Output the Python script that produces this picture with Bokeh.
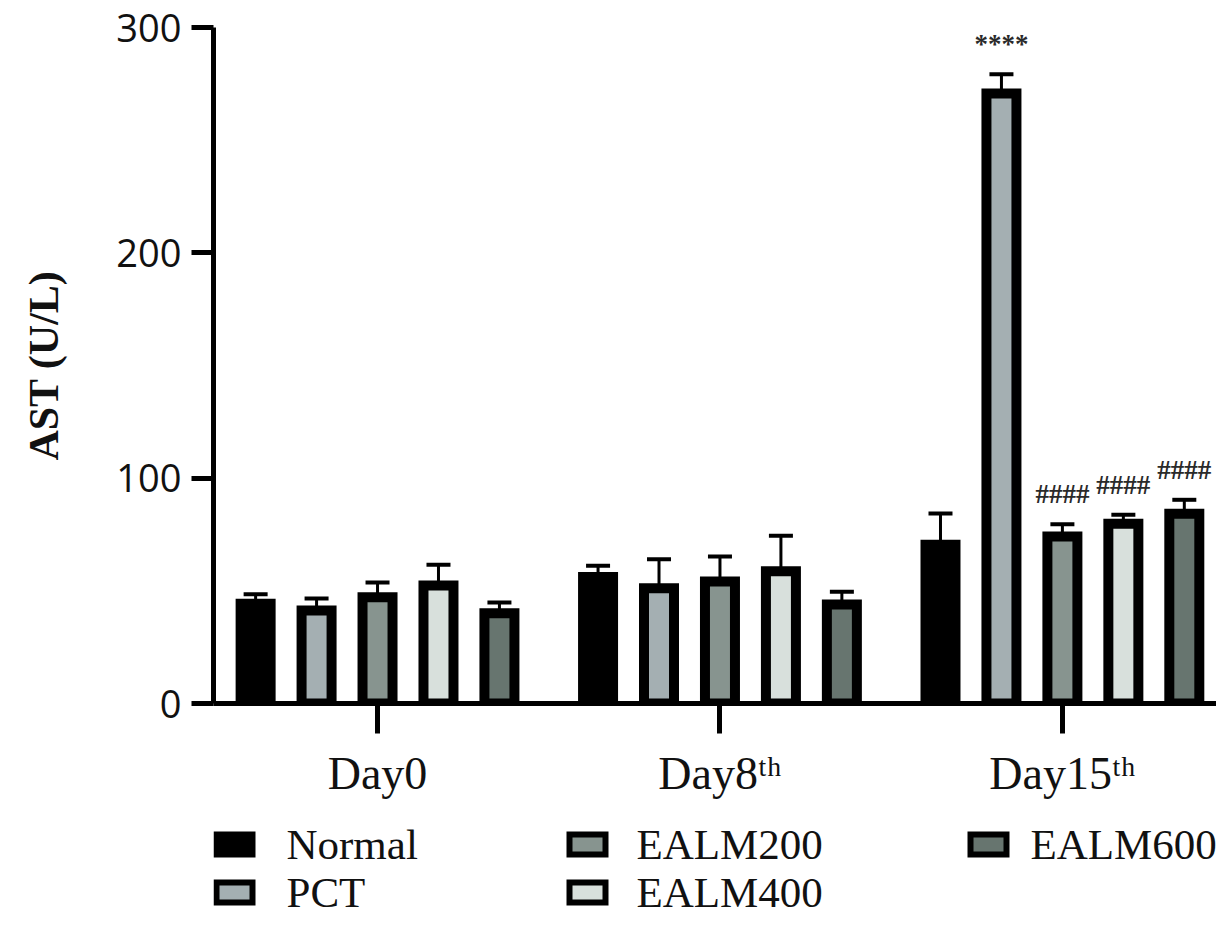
from bokeh.plotting import figure
from bokeh.models import Range1d, FixedTicker, ColumnDataSource
from bokeh.layouts import column
from bokeh.embed import file_html
from bokeh.resources import INLINE
from bokeh.core.properties import value

# ---------------- data ----------------
days = ["Day0", "Day8ᵗʰ", "Day15ᵗʰ"]
groups = ["Normal", "PCT", "EALM200", "EALM400", "EALM600"]
colors = ["#000000", "#a4afb2", "#87948f", "#d8e0dc", "#67756f"]

normal = [44.3, 56.1, 70.4]
pct = [41.3, 51.2, 270.7]
ealm200 = [47.2, 54.1, 74.1]
ealm400 = [52.4, 58.7, 79.8]
ealm600 = [40.1, 43.9, 84.2]

normal_err = [4.2, 5.0, 13.9]
pct_err = [5.3, 12.8, 8.5]
ealm200_err = [6.5, 11.1, 5.5]
ealm400_err = [9.2, 15.7, 4.0]
ealm600_err = [4.7, 5.7, 6.2]

normal_sig = ["", "", ""]
pct_sig = ["", "", "****"]
ealm200_sig = ["", "", "####"]
ealm400_sig = ["", "", "####"]
ealm600_sig = ["", "", "####"]

y_ticks = [0, 100, 200, 300]
y_label = "AST (U/L)"

series_vals = [normal, pct, ealm200, ealm400, ealm600]
series_errs = [normal_err, pct_err, ealm200_err, ealm400_err, ealm600_err]
series_sigs = [normal_sig, pct_sig, ealm200_sig, ealm400_sig, ealm600_sig]

# ---------------- layout constants ----------------
W = 1216
H_MAIN = 808
H_LEG = 112
LEFT = 213
bar_step = 0.178      # distance between bars in a group (group spacing = 1)
bar_width = 0.0876
px_per_unit = 676 / 300.0
bar_base = -5 / px_per_unit   # hide bottom border under axis

p = figure(width=W, height=H_MAIN,
           x_range=Range1d(-0.479, 2.450), y_range=Range1d(0, 300),
           output_backend="svg", toolbar_location=None,
           min_border_left=LEFT, min_border_right=0,
           min_border_top=27, min_border_bottom=H_MAIN - 703)
p.outline_line_color = None
p.xgrid.grid_line_color = None
p.ygrid.grid_line_color = None
p.background_fill_color = "white"
p.border_fill_color = "white"

for si, (name, col, vals, errs, sigs) in enumerate(zip(groups, colors, series_vals, series_errs, series_sigs)):
    xs = [di + (si - 2) * bar_step for di in range(len(days))]
    tops = [v + e for v, e in zip(vals, errs)]
    src = ColumnDataSource(dict(x=xs, top=vals, up=tops, sig=sigs))
    p.segment(x0="x", y0="top", x1="x", y1="up", line_color="black", line_width=3, source=src)
    p.scatter(x="x", y="up", marker="dash", size=24, line_width=4, line_color="black", source=src)
    p.vbar(x="x", top="top", bottom=bar_base, width=bar_width, fill_color=col,
           line_color="black", line_width=10, line_join="miter", source=src)
    p.text(x="x", y="up", text="sig", y_offset=-30, text_align="center", text_baseline="middle",
           text_font=value("Liberation Serif"), text_font_style="bold", text_font_size="27px",
           text_color="#2a2a2a", source=src)

# y axis
p.yaxis.ticker = FixedTicker(ticks=y_ticks)
p.yaxis.axis_line_width = 5
p.yaxis.major_tick_line_width = 5
p.yaxis.major_tick_out = 22
p.yaxis.major_tick_in = 0
p.yaxis.minor_tick_line_color = None
p.yaxis.major_label_text_font = "Open Sans"
p.yaxis.major_label_text_font_size = "38px"
p.yaxis.major_label_text_color = "#111111"
p.yaxis.major_label_standoff = 10
p.yaxis.axis_label = y_label
p.yaxis.axis_label_text_font = "Liberation Serif"
p.yaxis.axis_label_text_font_style = "bold"
p.yaxis.axis_label_text_font_size = "42px"
p.yaxis.axis_label_text_color = "#111111"
p.yaxis.axis_label_standoff = 46

# x axis
p.xaxis.ticker = FixedTicker(ticks=list(range(len(days))))
p.xaxis.major_label_overrides = {i: d for i, d in enumerate(days)}
p.xaxis.axis_line_width = 5
p.xaxis.major_tick_line_width = 5
p.xaxis.major_tick_out = 30
p.xaxis.major_tick_in = 0
p.xaxis.minor_tick_line_color = None
p.xaxis.major_label_text_font = "Liberation Serif"
p.xaxis.major_label_text_font_size = "46px"
p.xaxis.major_label_text_color = "#111111"
p.xaxis.major_label_standoff = 14

# ---------------- legend figure ----------------
leg = figure(width=W, height=H_LEG, x_range=Range1d(LEFT, W), y_range=Range1d(H_LEG, 0),
             output_backend="svg", toolbar_location=None,
             x_axis_location=None, y_axis_location=None,
             min_border_left=LEFT, min_border_right=0, min_border_top=0, min_border_bottom=0)
leg.outline_line_color = None
leg.xgrid.grid_line_color = None
leg.ygrid.grid_line_color = None

col_swatch_x = [234, 587, 988]
col_text_x = [286, 636, 1030]
row_y = [36, 84]
sw_x, tx_x, ly = [], [], []
for i in range(len(groups)):
    c, r = divmod(i, 2)
    sw_x.append(col_swatch_x[c])
    tx_x.append(col_text_x[c])
    ly.append(row_y[r])
lsrc = ColumnDataSource(dict(sx=sw_x, tx=tx_x, y=ly, name=groups, color=colors))
leg.rect(x="sx", y="y", width=36, height=20, fill_color="color", line_color="black",
         line_width=6, line_join="miter", source=lsrc)
leg.text(x="tx", y="y", text="name", text_baseline="middle", text_align="left",
         text_font=value("Liberation Serif"), text_font_size="43px", text_color="#111111",
         source=lsrc)

layout = column(p, leg, spacing=0)
open("out.html", "w").write(file_html(layout, INLINE))
